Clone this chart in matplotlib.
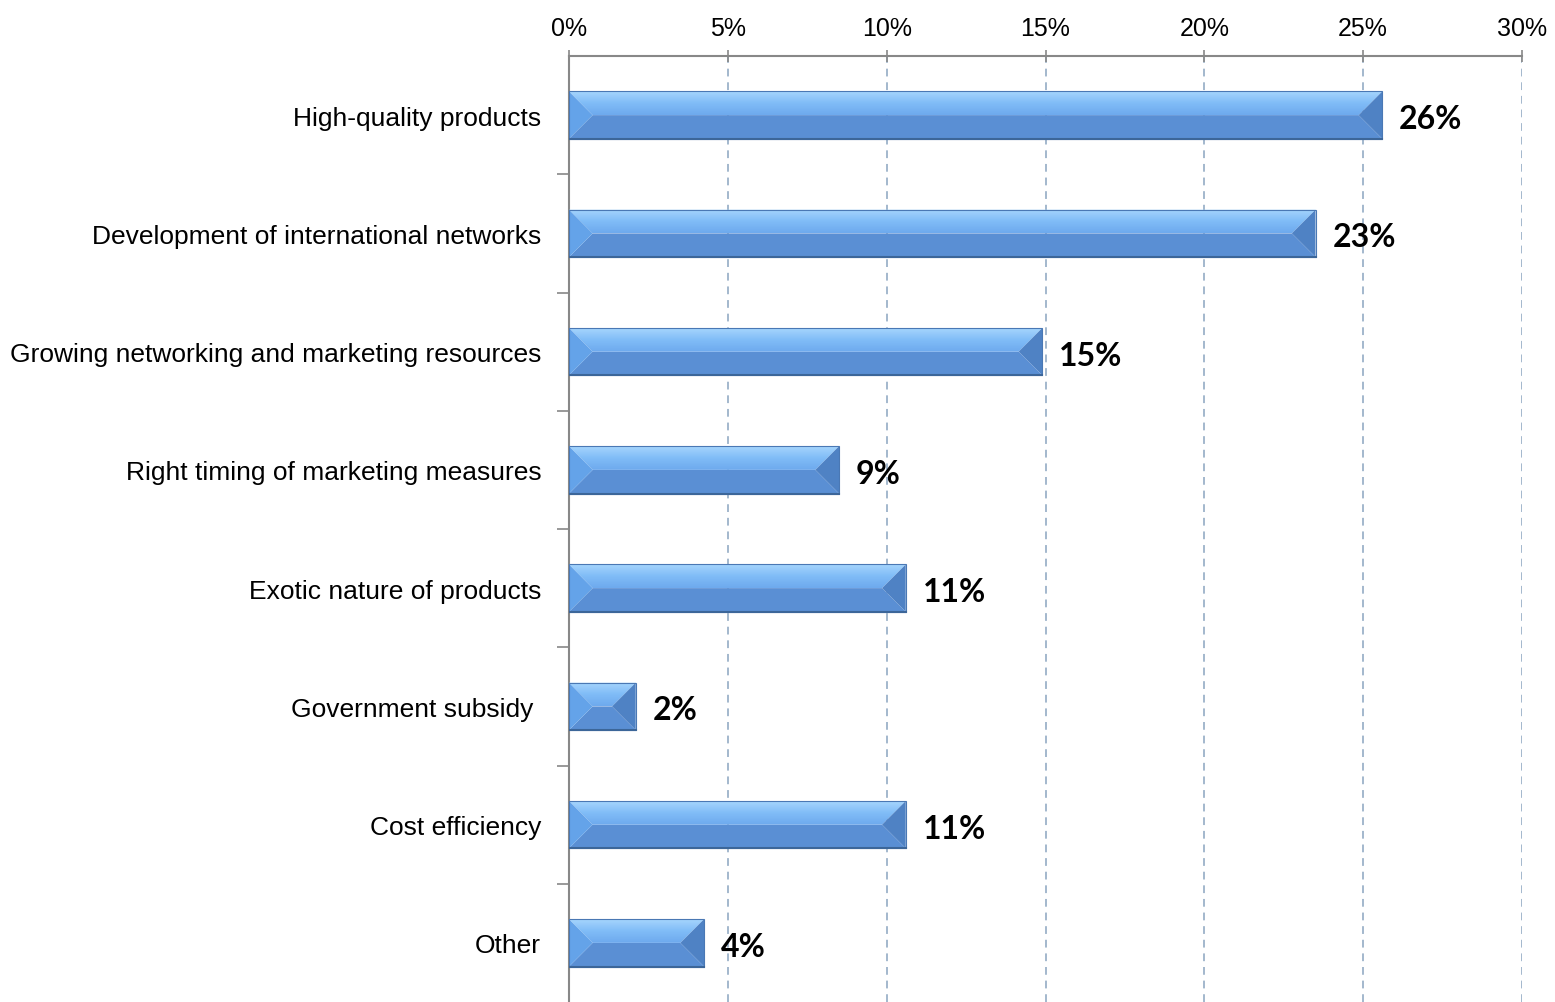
import matplotlib
matplotlib.use("Agg")
import matplotlib.pyplot as plt
import numpy as np
from matplotlib.patches import Polygon
from matplotlib.colors import LinearSegmentedColormap
from matplotlib import font_manager

categories = ["High-quality products", "Development of international networks",
              "Growing networking and marketing resources", "Right timing of marketing measures",
              "Exotic nature of products", "Government subsidy ", "Cost efficiency", "Other"]
values = [25.6, 23.5, 14.9, 8.5, 10.6, 2.1, 10.6, 4.25]
value_labels = ["26%", "23%", "15%", "9%", "11%", "2%", "11%", "4%"]
xticks = [0, 5, 10, 15, 20, 25, 30]
xtick_labels = ["0%", "5%", "10%", "15%", "20%", "25%", "30%"]

bold_fp = font_manager.FontProperties(family=["Lato", "DejaVu Sans"], weight="bold", size=23)

W, H = 1555, 1003
TOP = 57
fig = plt.figure(figsize=(W / 100, H / 100), dpi=100)
ax = fig.add_axes([569 / W, 0, (1522 - 569) / W, 1 - TOP / H])
ax.set_xlim(0, 30)
ax.set_ylim(len(categories) - 0.5, -0.5)

bar_h = 0.4
ax_w_px = (1522 - 569)
ax_h_px = H - TOP
px_x = ax_w_px / 30.0
px_y = ax_h_px / len(categories)
bev = (bar_h / 2 * px_y) / px_x  # bevel width in x-data units

grad_cmap = LinearSegmentedColormap.from_list("g", ["#a6d5fd", "#80bcf7", "#6eaaee"])

for i, v in enumerate(values):
    top = i - bar_h / 2
    bot = i + bar_h / 2
    mid = i
    b = min(bev, v / 2)
    ax.add_patch(Polygon([(0, bot), (b, mid), (v - b, mid), (v, bot)], closed=True,
                         facecolor="#5a8fd4", edgecolor="none", zorder=3))
    tp = Polygon([(0, top), (b, mid), (v - b, mid), (v, top)], closed=True,
                 facecolor="none", edgecolor="none", zorder=3)
    ax.add_patch(tp)
    grad = np.linspace(0, 1, 64).reshape(-1, 1)
    im = ax.imshow(grad, cmap=grad_cmap, extent=(0, v, mid, top), aspect="auto",
                   zorder=3, interpolation="bilinear")
    im.set_clip_path(tp)
    ax.add_patch(Polygon([(0, top), (b, mid), (0, bot)], closed=True,
                         facecolor="#64a3e9", edgecolor="none", zorder=3.5))
    ax.add_patch(Polygon([(v, top), (v - b, mid), (v, bot)], closed=True,
                         facecolor="#4f82c4", edgecolor="none", zorder=3.5))
    ax.add_patch(Polygon([(0, top), (v, top), (v, bot), (0, bot)], closed=True,
                         facecolor="none", edgecolor="#4a78b4", linewidth=0.8, zorder=4))
    ax.plot([0, v], [bot, bot], color="#3c6699", linewidth=1.5, zorder=4)
    ax.text(v + 17 / px_x, i + 0.03, value_labels[i], ha="left", va="center",
            fontproperties=bold_fp, color="black", zorder=5)

ax.set_xlim(0, 30)
ax.set_ylim(len(categories) - 0.5, -0.5)

for x in xticks[1:]:
    ax.axvline(x, color="#a3b8cd", linestyle=(0, (4, 3)), linewidth=1.4, zorder=1)

ax.xaxis.tick_top()
ax.set_xticks(xticks)
ax.set_xticklabels(xtick_labels, family="Liberation Sans", fontsize=18)
ax.tick_params(axis="x", direction="inout", length=9, width=1.2, color="#888888", pad=7)

ax.set_yticks(range(len(categories)))
ax.set_yticklabels(categories, family="Liberation Sans", fontsize=19)
ax.tick_params(axis="y", which="major", length=0, pad=20)
ax.set_yticks(np.arange(0.5, len(categories) - 0.5, 1), minor=True)
ax.tick_params(axis="y", which="minor", direction="out", length=9, width=1.2, color="#888888")

for s in ["right", "bottom"]:
    ax.spines[s].set_visible(False)
for s in ["top", "left"]:
    ax.spines[s].set_color("#888888")
    ax.spines[s].set_linewidth(1.5)

fig.savefig("out.png", dpi=100, facecolor="white")
